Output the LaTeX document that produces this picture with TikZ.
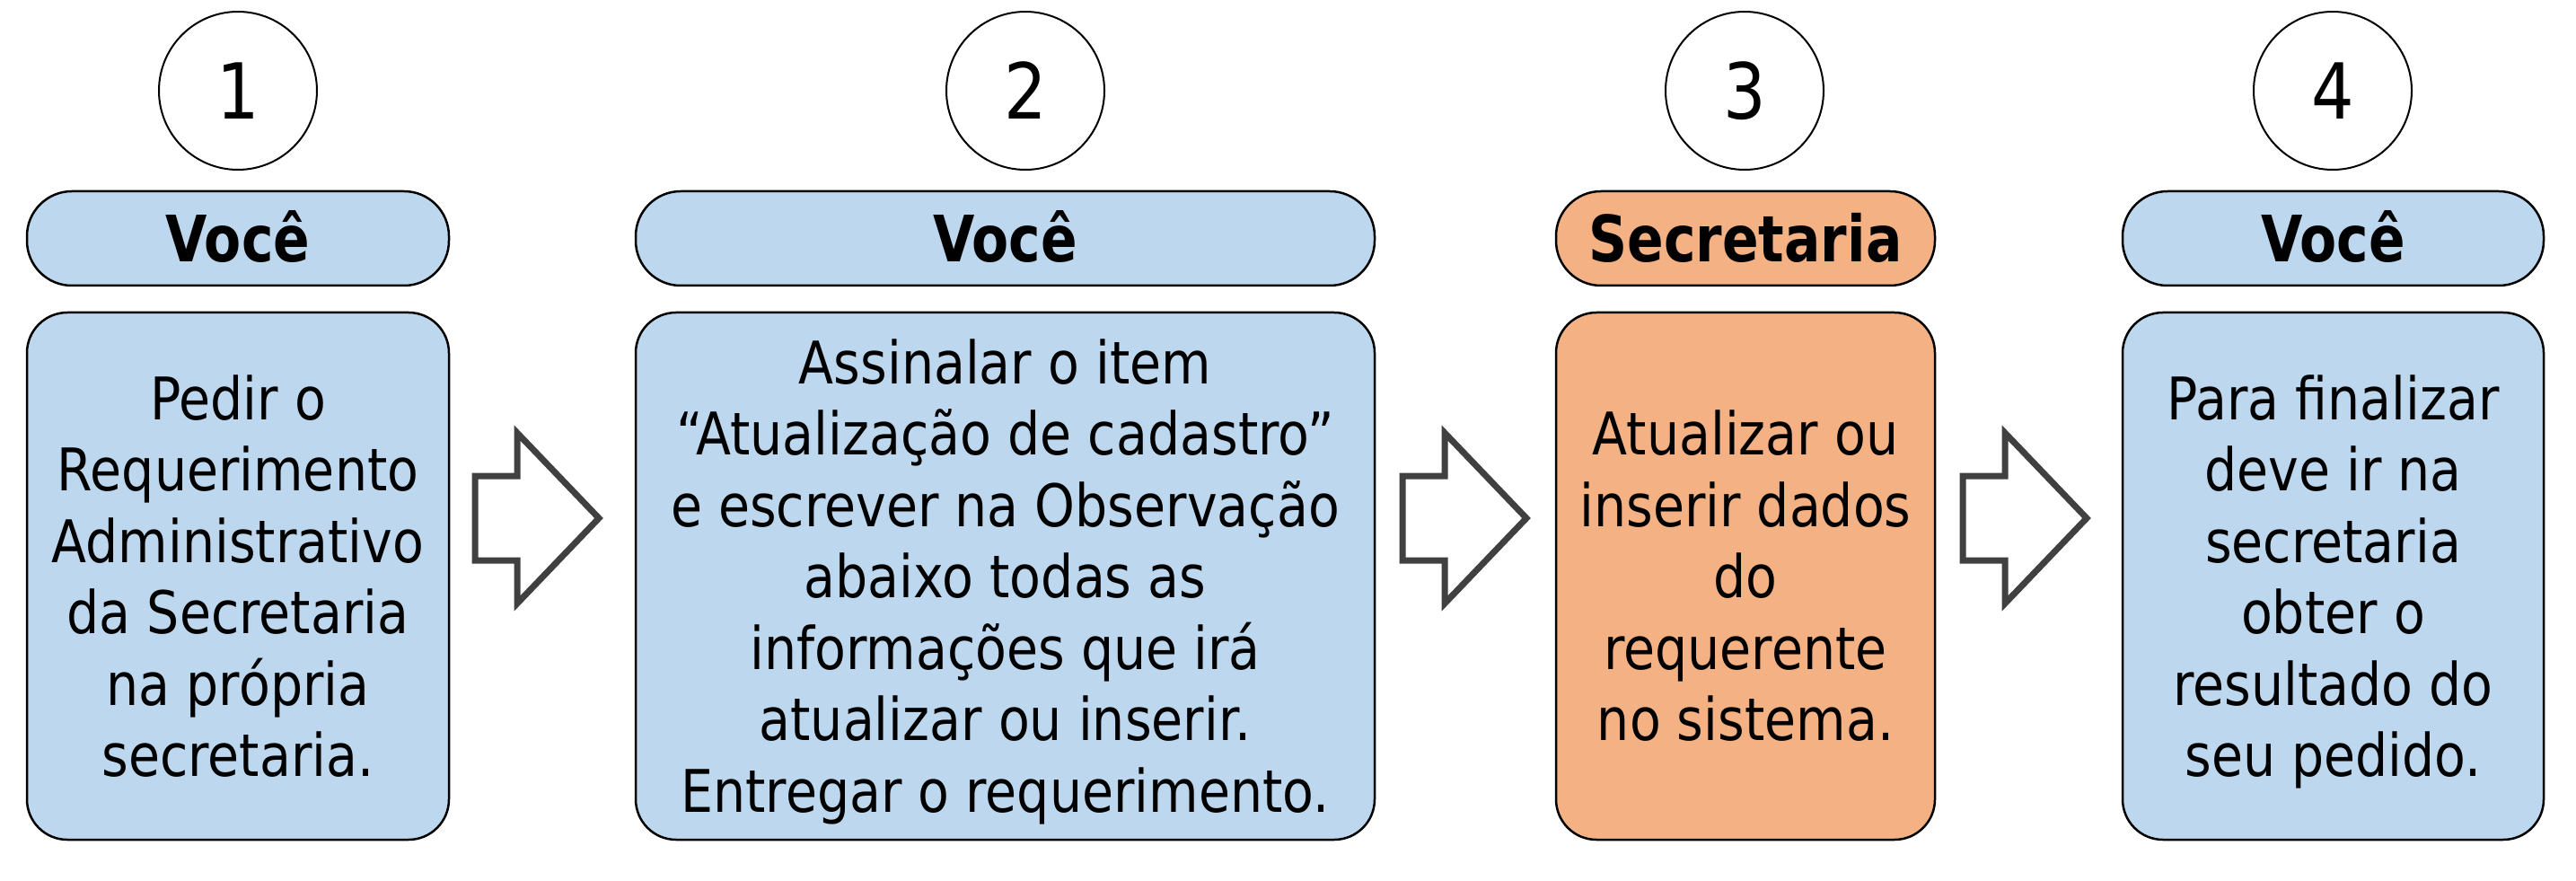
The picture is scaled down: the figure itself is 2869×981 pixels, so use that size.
\documentclass[tikz,border=0pt]{standalone}
\usepackage{fontspec}
\newfontfamily\bodyfont{DejaVu Sans}[FakeStretch=0.87]
\newfontfamily\headfont{DejaVu Sans}[FakeStretch=0.84]
\definecolor{boxblue}{HTML}{BDD7EE}
\definecolor{boxorange}{HTML}{F4B183}
\definecolor{arrowgray}{HTML}{404040}
\newcommand\ls{\rule[-15.5pt]{0pt}{79.5pt}}
\newcommand\blockarrow[1]{%
  \draw[arrowshape] (#1,530) -- ++(47,0) -- ++(0,-48) -- ++(91,95) -- ++(-91,95) -- ++(0,-48) -- ++(-47,0) -- cycle;}
\tikzset{
  headbox/.style={draw=black, line width=2.5pt, rounded corners=50pt,
    minimum width=#1, minimum height=105pt, inner sep=0pt,
    font=\headfont\bfseries\fontsize{71.3pt}{80pt}\selectfont,
    text height=52pt, text depth=0pt},
  bodybox/.style={draw=black, line width=2.5pt, rounded corners=45pt,
    minimum width=#1, minimum height=587pt, inner sep=0pt, align=center,
    font=\bodyfont\fontsize{65.5pt}{79.5pt}\selectfont},
  numcircle/.style={circle, draw=black, line width=2pt, minimum size=176pt,
    inner sep=0pt, fill=white,
    font=\bodyfont\fontsize{86pt}{90pt}\selectfont,
    text height=62.5pt, text depth=0pt},
  arrowshape/.style={draw=arrowgray, fill=white, line width=7pt, line join=miter}
}
\begin{document}
\begin{tikzpicture}[x=1pt,y=-1pt]
\fill[white] (0,0) rectangle (2869,981);
\useasboundingbox (0,0) rectangle (2869,981);

% numbers
\node[numcircle] (n1) at (265,101) {1};
\node[numcircle] (n2) at (1142,101) {2};
\node[numcircle] (n3) at (1943,101) {3};
\node[numcircle] (n4) at (2598,101) {4};

% headers
\node[headbox=470pt, fill=boxblue] (h1) at (265,265.5) {Você};
\node[headbox=823pt, fill=boxblue] (h2) at (1119.5,265.5) {Você};
\node[headbox=422pt, fill=boxorange] (h3) at (1944,265.5) {Secretaria};
\node[headbox=469pt, fill=boxblue] (h4) at (2598.5,265.5) {Você};

% bodies
\node[bodybox=470pt, fill=boxblue] (b1) at (265,641.5)
  {\ls Pedir o\\Requerimento\\Administrativo\\da Secretaria\\na própria\\secretaria.\ls};
\node[bodybox=823pt, fill=boxblue] (b2) at (1119.5,641.5)
  {\ls Assinalar o item\\“Atualização de cadastro”\\e escrever na Observação\\abaixo todas as\\informações que irá\\atualizar ou inserir.\\Entregar o requerimento.\ls};
\node[bodybox=422pt, fill=boxorange] (b3) at (1944,641.5)
  {\ls Atualizar ou\\inserir dados\\do\\requerente\\no sistema.\ls};
\node[bodybox=469pt, fill=boxblue] (b4) at (2598.5,641.5)
  {\ls Para finalizar\\deve ir na\\secretaria\\obter o\\resultado do\\seu pedido.\ls};

% block arrows
\blockarrow{529}
\blockarrow{1562}
\blockarrow{2186}
\end{tikzpicture}
\end{document}
